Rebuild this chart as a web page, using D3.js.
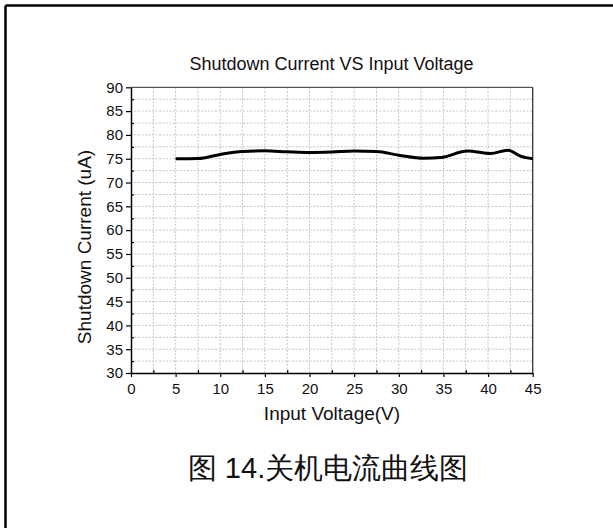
<!DOCTYPE html>
<html>
<head>
<meta charset="utf-8">
<script src="https://cdn.jsdelivr.net/npm/d3@7.9.0/dist/d3.min.js"></script>
<style>
  html, body { margin: 0; padding: 0; background: #fff; }
  svg { display: block; }
  text { font-family: "Liberation Sans", Arial, sans-serif; fill: #111; }
</style>
</head>
<body>
<svg id="chart" width="613" height="528"></svg>
<script>
// values
const voltage = [5, 7.5, 10, 12.5, 15, 17.5, 20, 22.5, 25, 27.5, 30, 32.8, 34.7, 37.7, 40.3, 42.2, 43.7, 45];
const current = [75.0, 75.05, 75.9, 76.5, 76.65, 76.45, 76.3, 76.4, 76.6, 76.5, 75.75, 75.1, 75.25, 76.6, 76.1, 76.8, 75.5, 75.0];
const xTicks = [0, 5, 10, 15, 20, 25, 30, 35, 40, 45];
const yTicks = [30, 35, 40, 45, 50, 55, 60, 65, 70, 75, 80, 85, 90];
const title = 'Shutdown Current VS Input Voltage';
const xLabel = 'Input Voltage(V)';
const yLabel = 'Shutdown Current (uA)';
const caption = '图 14.关机电流曲线图';

const svg = d3.select('#chart');

// page border (top and left edges of the cell)
svg.append('line').attr('x1', 5.5).attr('x2', 613).attr('y1', 5.5).attr('y2', 5.5)
  .attr('stroke', '#000').attr('stroke-width', 2.5);
svg.append('line').attr('x1', 5.5).attr('x2', 5.5).attr('y1', 5.5).attr('y2', 528)
  .attr('stroke', '#000').attr('stroke-width', 2.5);

const x = d3.scaleLinear().domain([0, 45]).range([131, 532.7]);
const y = d3.scaleLinear().domain([30, 90]).range([373, 87.3]);

// minor positions (every 2.5)
const xMinor = d3.range(0, 45.01, 2.5);
const yMinor = d3.range(30, 90.01, 2.5);

// grid
const grid = svg.append('g').attr('stroke', '#c4c4c4').attr('stroke-width', 1)
  .attr('stroke-dasharray', '2,1.5');
grid.selectAll('.gx').data(xMinor.filter(d => d > 0 && d < 45)).join('line')
  .attr('x1', d => x(d)).attr('x2', d => x(d))
  .attr('y1', y(30)).attr('y2', y(90));
grid.selectAll('.gy').data(yMinor.filter(d => d > 30 && d < 90)).join('line')
  .attr('x1', x(0)).attr('x2', x(45))
  .attr('y1', d => y(d)).attr('y2', d => y(d));

// top and right frame
svg.append('line').attr('x1', x(0)).attr('x2', x(45)).attr('y1', y(90)).attr('y2', y(90))
  .attr('stroke', '#555').attr('stroke-width', 1.3);
svg.append('line').attr('x1', x(45)).attr('x2', x(45)).attr('y1', y(90)).attr('y2', y(30))
  .attr('stroke', '#333').attr('stroke-width', 1.3);

// axes
const xAxis = svg.append('g').attr('transform', `translate(0,${y(30)})`)
  .call(d3.axisBottom(x).tickValues(xTicks).tickSize(4).tickPadding(6).tickSizeOuter(0));
const xAxisMinor = svg.append('g').attr('transform', `translate(0,${y(30)})`)
  .call(d3.axisTop(x).tickValues(xMinor.filter(d => d % 5 !== 0)).tickSize(3).tickFormat('').tickSizeOuter(0));
const yAxis = svg.append('g').attr('transform', `translate(${x(0)},0)`)
  .call(d3.axisLeft(y).tickValues(yTicks).tickSize(5).tickPadding(3).tickSizeOuter(0));
const yAxisMinor = svg.append('g').attr('transform', `translate(${x(0)},0)`)
  .call(d3.axisRight(y).tickValues(yMinor.filter(d => d % 5 !== 0)).tickSize(3).tickFormat('').tickSizeOuter(0));

[xAxis, xAxisMinor, yAxis, yAxisMinor].forEach(g => {
  g.select('.domain').attr('stroke', '#000').attr('stroke-width', 1.5);
  g.selectAll('.tick line').attr('stroke', '#000').attr('stroke-width', 1.2);
  g.selectAll('.tick text').attr('font-size', 15).attr('font-family', '"Liberation Sans", Arial, sans-serif').attr('fill', '#111');
});
xAxisMinor.select('.domain').remove();
yAxisMinor.select('.domain').remove();

// curve
const line = d3.line()
  .x((d, i) => x(voltage[i]))
  .y(d => y(d))
  .curve(d3.curveMonotoneX);
svg.append('path').datum(current)
  .attr('d', line)
  .attr('fill', 'none')
  .attr('stroke', '#000')
  .attr('stroke-width', 3)
  .attr('stroke-linejoin', 'round');

// texts
svg.append('text').attr('x', 331.5).attr('y', 70).attr('text-anchor', 'middle')
  .attr('font-size', 18).text(title);
svg.append('text').attr('x', 332).attr('y', 420).attr('text-anchor', 'middle')
  .attr('font-size', 19).text(xLabel);
svg.append('text').attr('transform', 'translate(91,247) rotate(-90)').attr('text-anchor', 'middle')
  .attr('font-size', 19).text(yLabel);
svg.append('text').attr('x', 328).attr('y', 478).attr('text-anchor', 'middle')
  .attr('font-size', 29).attr('font-family', '"Noto Sans CJK SC", sans-serif')
  .text(caption);
</script>
</body>
</html>
